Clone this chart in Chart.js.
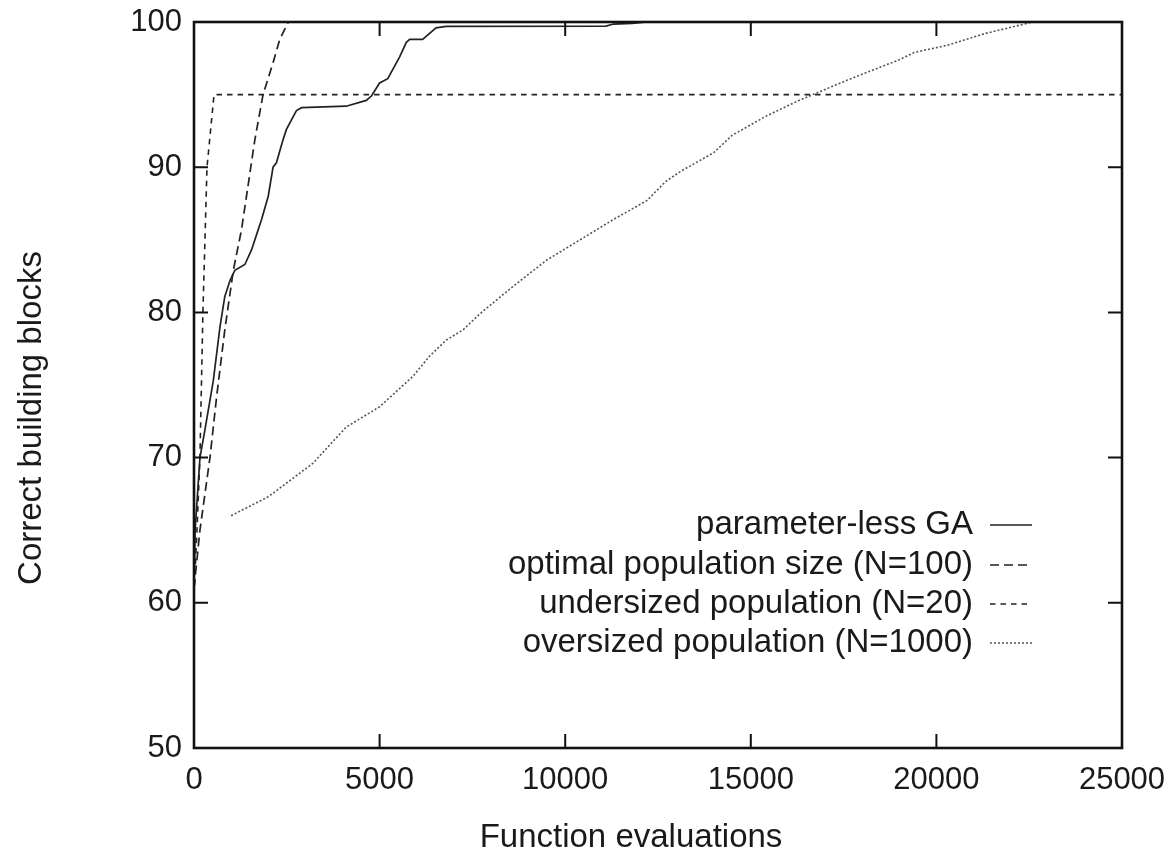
<!DOCTYPE html>
<html><head><meta charset="utf-8">
<script src="https://cdn.jsdelivr.net/npm/chart.js@4.4.1/dist/chart.umd.min.js"></script>
<style>html,body{margin:0;padding:0;background:#fff;}canvas{display:block;}</style>
</head><body>
<canvas id="c" width="1174" height="865"></canvas>
<script>
// ---- data ----
const xTicks = [0, 5000, 10000, 15000, 20000, 25000];
const yTicks = [50, 60, 70, 80, 90, 100];
const xTitle = 'Function evaluations';
const yTitle = 'Correct building blocks';
const seriesLabels = ['parameter-less GA', 'optimal population size (N=100)', 'undersized population (N=20)', 'oversized population (N=1000)'];

const gaX = [0, 30, 160, 300, 520, 700, 830, 970, 1100, 1370, 1550, 1730, 1820, 2000, 2130, 2220, 2400, 2490, 2760, 2900, 4100, 4640, 4780, 5000, 5220, 5540, 5720, 5810, 6160, 6520, 6790, 11100, 11300, 11800, 12200, 25000];
const gaY = [61, 65, 70, 72, 75.3, 79, 81.1, 82.2, 82.9, 83.3, 84.3, 85.7, 86.4, 88, 90, 90.3, 91.9, 92.6, 93.9, 94.1, 94.2, 94.6, 94.9, 95.8, 96.1, 97.6, 98.6, 98.8, 98.8, 99.6, 99.7, 99.72, 99.86, 99.9, 100, 100];

const optX = [0, 160, 430, 610, 830, 1060, 1280, 1530, 1640, 1860, 2130, 2310, 2540];
const optY = [61, 65, 70, 74.2, 78.8, 82.9, 85.7, 90, 91.9, 95, 97.2, 98.8, 100];

const undX = [0, 80, 160, 240, 350, 540, 25000];
const undY = [60.5, 65, 70, 80, 90, 95, 95];

const ovrX = [1000, 2000, 3200, 4100, 5000, 5900, 6350, 6800, 7250, 7700, 8600, 9500, 10400, 11300, 12200, 12700, 13100, 14000, 14500, 15400, 16300, 17600, 18500, 19000, 19400, 20300, 21300, 22600];
const ovrY = [66, 67.3, 69.6, 72.1, 73.5, 75.6, 77, 78.1, 78.8, 79.9, 81.8, 83.6, 85, 86.4, 87.7, 89, 89.7, 91, 92.2, 93.5, 94.6, 96, 96.9, 97.4, 97.9, 98.4, 99.2, 100];

const toPts = (xs, ys) => xs.map((x, i) => ({x: x, y: ys[i]}));

const FAMILY = "'Liberation Sans', Arial, Helvetica, sans-serif";
const FONT = {family: FAMILY, size: 31};
const BIG = 33;
const TXT = '#1a1a1a';

const framePlugin = {
  id: 'frame',
  afterDatasetsDraw(chart) {
    const {ctx, chartArea: a, scales: {x, y}} = chart;
    ctx.save();
    ctx.setLineDash([]);
    ctx.strokeStyle = '#111';
    ctx.lineWidth = 2;
    const L = 14;
    ctx.beginPath();
    x.ticks.forEach(t => {
      const px = x.getPixelForValue(t.value);
      if (px <= a.left + 1 || px >= a.right - 1) return;
      ctx.moveTo(px, a.bottom); ctx.lineTo(px, a.bottom - L);
      ctx.moveTo(px, a.top); ctx.lineTo(px, a.top + L);
    });
    y.ticks.forEach(t => {
      const py = y.getPixelForValue(t.value);
      if (py <= a.top + 1 || py >= a.bottom - 1) return;
      ctx.moveTo(a.left, py); ctx.lineTo(a.left + L, py);
      ctx.moveTo(a.right, py); ctx.lineTo(a.right - L, py);
    });
    ctx.stroke();
    ctx.lineWidth = 2.6;
    ctx.strokeRect(a.left, a.top, a.right - a.left, a.bottom - a.top);

    // legend (inside, bottom right)
    ctx.font = BIG + 'px ' + FAMILY;
    ctx.fillStyle = TXT;
    ctx.textAlign = 'right';
    ctx.textBaseline = 'middle';
    const rowY = [525, 565, 604, 643];
    chart.data.datasets.forEach((ds, i) => {
      const yy = rowY[i] - 22 + a.top;
      ctx.fillText(ds.label, a.left + 779, yy);
      ctx.save();
      ctx.strokeStyle = ds.borderColor;
      ctx.lineWidth = ds.borderWidth;
      ctx.setLineDash(ds.borderDash || []);
      ctx.beginPath();
      ctx.moveTo(a.left + 796, yy);
      ctx.lineTo(a.left + 838, yy);
      ctx.stroke();
      ctx.restore();
    });

    // axis titles
    ctx.textAlign = 'center';
    ctx.fillText(xTitle, 631, 838);
    ctx.translate(32, 418);
    ctx.rotate(-Math.PI / 2);
    ctx.fillText(yTitle, 0, 0);
    ctx.restore();
  }
};

new Chart(document.getElementById('c'), {
  type: 'scatter',
  data: {
    datasets: [
      {label: seriesLabels[0], data: toPts(gaX, gaY), borderColor: '#222', borderWidth: 1.7, borderDash: []},
      {label: seriesLabels[1], data: toPts(optX, optY), borderColor: '#222', borderWidth: 1.7, borderDash: [9, 5]},
      {label: seriesLabels[2], data: toPts(undX, undY), borderColor: '#222', borderWidth: 1.6, borderDash: [5.5, 5]},
      {label: seriesLabels[3], data: toPts(ovrX, ovrY), borderColor: '#555', borderWidth: 1.6, borderDash: [2, 2]}
    ].map(d => Object.assign(d, {showLine: true, pointRadius: 0, pointHoverRadius: 0, fill: false, tension: 0}))
  },
  options: {
    responsive: false,
    animation: false,
    events: [],
    layout: {padding: {top: 22, right: 52, left: 0, bottom: 0}},
    plugins: {legend: {display: false}, tooltip: {enabled: false}, title: {display: false}},
    scales: {
      x: {
        type: 'linear', min: 0, max: 25000,
        afterBuildTicks: s => { s.ticks = xTicks.map(v => ({value: v})); },
        ticks: {font: FONT, color: TXT, padding: 14, maxRotation: 0, autoSkip: false, callback: v => String(v)},
        grid: {display: false, drawTicks: false},
        border: {display: false},
        afterFit: s => { s.height = 117; s.paddingLeft = 0; s.paddingRight = 0; }
      },
      y: {
        type: 'linear', min: 50, max: 100,
        afterBuildTicks: s => { s.ticks = yTicks.map(v => ({value: v})); },
        ticks: {font: FONT, color: TXT, padding: 12, autoSkip: false, callback: v => String(v)},
        grid: {display: false, drawTicks: false},
        border: {display: false},
        afterFit: s => { s.width = 194; s.paddingTop = 0; s.paddingBottom = 0; }
      }
    }
  },
  plugins: [framePlugin]
});
</script>
</body></html>
